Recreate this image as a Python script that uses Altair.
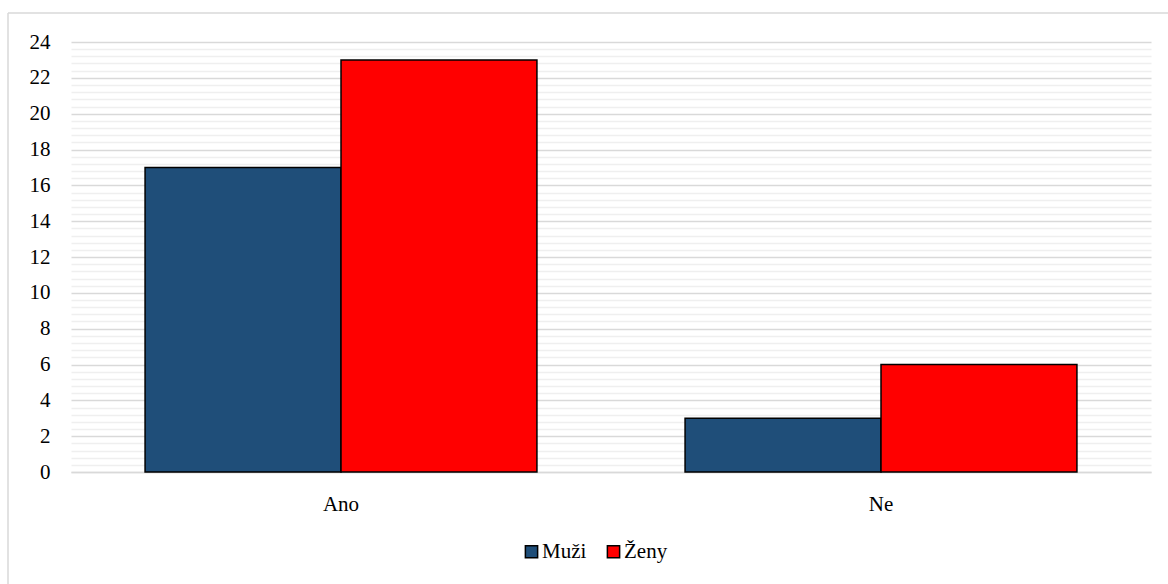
import altair as alt
import pandas as pd

categories = ["Ano", "Ano", "Ne", "Ne"]
groups = ["Muži", "Ženy", "Muži", "Ženy"]
values = [17, 23, 3, 6]
group_order = ["Muži", "Ženy"]
group_colors = ["#1F4E79", "#FF0000"]
y_ticks = [round(i * 0.4, 1) for i in range(61)]

df = pd.DataFrame({"kat": categories, "pohlavi": groups, "pocet": values})

FONT = "Times New Roman"
MAJOR = "abs(datum.value - round(datum.value/2)*2) < 0.01"

bars = alt.Chart(df).mark_bar(stroke="black", strokeWidth=1.5).encode(
    x=alt.X("kat:N", title=None,
            scale=alt.Scale(paddingInner=0, paddingOuter=0),
            axis=alt.Axis(labelAngle=0, ticks=False, domain=True, domainColor="#d9d9d9",
                          domainWidth=1.5, labelPadding=21, labelFontSize=21,
                          labelFont=FONT, labelColor="black")),
    xOffset=alt.XOffset("pohlavi:N", sort=group_order,
                        scale=alt.Scale(paddingInner=0, paddingOuter=0.378)),
    y=alt.Y("pocet:Q", title=None,
            scale=alt.Scale(domain=[0, 24], nice=False),
            axis=alt.Axis(values=y_ticks, ticks=False, domain=False,
                          labelExpr=MAJOR + " ? format(round(datum.value), 'd') : ''",
                          labelOverlap=False,
                          labelFontSize=21, labelFont=FONT, labelColor="black",
                          labelPadding=21,
                          gridColor={"condition": {"test": MAJOR, "value": "#d9d9d9"}, "value": "#efefef"},
                          gridWidth=1.5)),
    color=alt.Color("pohlavi:N", sort=group_order,
                    scale=alt.Scale(domain=group_order, range=group_colors),
                    legend=alt.Legend(title=None, orient="none", direction="horizontal",
                                      legendX=450, legendY=499,
                                      symbolType="square", symbolSize=150,
                                      symbolStrokeColor="black", symbolStrokeWidth=1.5,
                                      labelFontSize=21, labelFont=FONT, labelColor="black",
                                      labelOffset=0, columnPadding=16)),
)

one = alt.Data(values=[{"a": 1}])
top_line = alt.Chart(one).mark_rule(color="#d9d9d9", strokeWidth=1.5).encode(
    x=alt.value(-63), x2=alt.value(1120), y=alt.value(-29))
left_line = alt.Chart(one).mark_rule(color="#d9d9d9", strokeWidth=1.5).encode(
    x=alt.value(-63), y=alt.value(-29), y2=alt.value(560))

chart = alt.layer(bars, top_line, left_line).properties(
    width=1080, height=430,
    autosize=alt.AutoSizeParams(type="none"),
    padding={"left": 71, "top": 42, "right": 17, "bottom": 112},
    background="white",
).configure_view(stroke=None)

chart.save("out.html", embed_options={"renderer": "svg", "actions": False})
